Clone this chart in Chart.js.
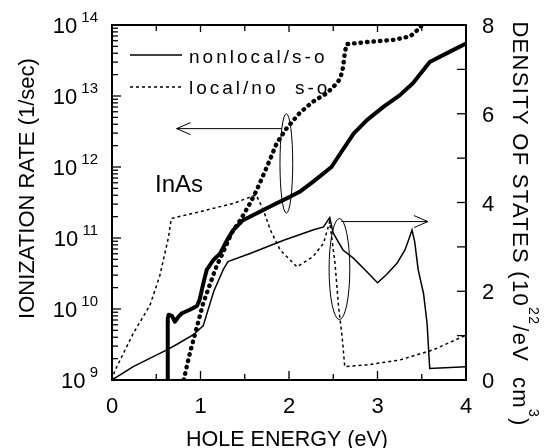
<!DOCTYPE html>
<html><head><meta charset="utf-8">
<script src="https://cdn.jsdelivr.net/npm/chart.js@4/dist/chart.umd.min.js"></script>
<style>html,body{margin:0;padding:0;background:#fff}canvas{display:block}</style>
</head><body>
<canvas id="c" width="545" height="448"></canvas>
<script>
// ---- data ----
const nonlocalRateE = [0.625,0.63,0.64,0.68,0.71,0.75,0.79,0.88,0.96,0.99,1.03,1.07,1.145,1.22,1.30,1.37,1.48,1.67,1.86,2.01,2.12,2.27,2.48,2.58,2.73,2.88,3.07,3.25,3.40,3.59,3.78,4.0];
const nonlocalRate  = [1.0e9,7.24e9,8.32e9,7.94e9,6.61e9,7.76e9,8.71e9,9.77e9,1.10e10,1.35e10,2.24e10,3.55e10,4.90e10,6.03e10,9.33e10,1.29e11,1.78e11,2.34e11,3.09e11,3.80e11,4.47e11,6.17e11,1.00e12,1.55e12,2.95e12,4.57e12,7.08e12,1.02e13,1.51e13,3.02e13,3.98e13,5.50e13];

const localRateE = [0.81,0.88,0.96,1.03,1.11,1.18,1.26,1.35,1.45,1.56,1.63,1.75,1.86,1.97,2.12,2.27,2.43,2.54,2.58,2.61,2.63,2.65,2.88,3.18,3.37,3.48,3.50];
const localRate  = [1.0e9,2.40e9,5.62e9,1.20e10,2.29e10,3.98e10,6.46e10,1.17e11,1.78e11,3.09e11,4.57e11,1.0e12,2.14e12,3.47e12,5.75e12,8.32e12,1.10e13,1.51e13,1.78e13,2.51e13,3.98e13,5.37e13,5.75e13,6.17e13,6.92e13,9.12e13,1.0e14];

const nonlocalDosE = [0,0.24,0.50,0.62,0.73,0.92,1.03,1.15,1.26,1.31,1.56,1.94,2.27,2.39,2.46,2.50,2.61,2.73,2.88,3.0,3.10,3.22,3.31,3.35,3.39,3.42,3.46,3.52,3.56,3.59,4.0];
const nonlocalDos  = [0,0.30,0.56,0.68,0.80,1.02,1.22,2.0,2.50,2.67,2.85,3.15,3.38,3.45,3.66,3.31,2.93,2.74,2.44,2.19,2.37,2.63,2.93,3.15,3.38,3.12,2.48,1.95,1.28,0.26,0.30];

const localDosE = [0,0.03,0.24,0.43,0.54,0.64,0.67,0.99,1.37,1.63,1.71,1.79,1.90,2.09,2.27,2.39,2.46,2.52,2.56,2.60,2.63,2.88,3.25,3.63,4.0];
const localDos  = [0,0.20,1.05,1.69,2.35,3.23,3.64,3.79,3.98,4.17,3.83,3.38,2.93,2.55,2.78,3.08,3.57,2.63,1.65,0.98,0.30,0.34,0.45,0.68,1.01];

// tick labels
const xTickValues = [0,1,2,3,4];
const xTickLabels = ['0','1','2','3','4'];
const leftTickExponents = [9,10,11,12,13,14];
const rightTickValues = [0,2,4,6,8];
const rightTickLabels = ['0','2','4','6','8'];

// text
const legendLabels = ['nonlocal/s-o','local/no  s-o'];
const xTitle = 'HOLE ENERGY (eV)';
const leftTitle = 'IONIZATION RATE (1/sec)';
const materialLabel = 'InAs';

// annotations (data coordinates)
const arrowLeftE = [1.92, 0.73];   const arrowLeftRate = 3.47e12;
const arrowRightE = [2.59, 3.57];  const arrowRightDos = 3.57;
const ellipseRate = {e:1.97, re:0.072, logc:12.05, rlog:0.70};
const ellipseDos  = {e:2.57, re:0.117, c:2.50, r:1.14};
const materialPos = {e:0.486, rate:4.5e11};

const pts = (xs, ys) => xs.map((x,i)=>({x, y: ys[i]}));

function seg(ctx,x1,y1,x2,y2){ctx.beginPath();ctx.moveTo(x1,y1);ctx.lineTo(x2,y2);ctx.stroke();}

function drawParts(ctx, parts, x, y, align){
  let total = 0;
  for (const p of parts){ ctx.font = p.f; p.w = ctx.measureText(p.t).width; total += p.w; }
  let cx = align === 'center' ? x - total/2 : (align === 'right' ? x - total : x);
  for (const p of parts){ ctx.font = p.f; ctx.fillText(p.t, cx, y + (p.dy||0)); cx += p.w; }
}

const FONT = '"Liberation Sans", Arial, Helvetica, sans-serif';

const decor = {
  id:'decor',
  afterDatasetsDraw(chart){
    const {ctx, chartArea:a, scales} = chart;
    const X = scales.x, Y = scales.y, Y2 = scales.y2;
    ctx.save();
    ctx.strokeStyle = '#000'; ctx.fillStyle = '#000';
    ctx.lineCap = 'butt';
    // frame
    ctx.lineWidth = 2;
    ctx.strokeRect(a.left, a.top, a.right-a.left, a.bottom-a.top);
    // x ticks (bottom and top), every 0.5
    ctx.lineWidth = 1.3;
    for (const t of X.ticks){
      const px = X.getPixelForValue(t.value);
      if (t.value <= X.min || t.value >= X.max) continue;
      const major = Math.abs(t.value - Math.round(t.value)) < 1e-6;
      seg(ctx, px, a.bottom, px, a.bottom - (major?9:6));
      seg(ctx, px, a.top, px, a.top + (major?7:6));
    }
    // left log ticks
    for (let e = leftTickExponents[0]; e < leftTickExponents[leftTickExponents.length-1]; e++){
      for (let m = 1; m <= 9; m++){
        const v = m * Math.pow(10, e);
        const py = Y.getPixelForValue(v);
        if (m === 1) { if (e>leftTickExponents[0]) seg(ctx, a.left, py, a.left+9, py); }
        else seg(ctx, a.left, py, a.left+6, py);
      }
    }
    // right ticks
    for (const t of Y2.ticks){
      if (t.value <= Y2.min || t.value >= Y2.max) continue;
      const py = Y2.getPixelForValue(t.value);
      seg(ctx, a.right, py, a.right-9, py);
    }
    // tick labels
    ctx.textBaseline = 'alphabetic';
    ctx.font = '22px ' + FONT;
    ctx.textAlign = 'center';
    xTickValues.forEach((v,i)=>{ ctx.fillText(xTickLabels[i], X.getPixelForValue(v), a.bottom + 33); });
    ctx.textAlign = 'left';
    rightTickValues.forEach((v,i)=>{ ctx.fillText(rightTickLabels[i], 482, Y2.getPixelForValue(v) + 8); });
    leftTickExponents.forEach(e=>{
      const py = Y.getPixelForValue(Math.pow(10,e));
      drawParts(ctx, [{t:'10', f:'22px '+FONT},{t:' '+String(e), f:'15px '+FONT, dy:-11}], 98, py+8, 'right');
    });
    // axis titles
    ctx.textAlign = 'center';
    ctx.font = '21.5px ' + FONT;
    ctx.fillText(xTitle, (a.left+a.right)/2 - 2, 446);
    ctx.save();
    ctx.translate(33.5, 188.5); ctx.rotate(-Math.PI/2);
    ctx.font = '22px ' + FONT; ctx.fillText(leftTitle, 0, 0);
    ctx.restore();
    ctx.save();
    ctx.translate(513, 224); ctx.rotate(Math.PI/2);
    ctx.textAlign = 'left';
    try { ctx.letterSpacing = '1.3px'; } catch(e) {}
    drawParts(ctx, [
      {t:'DENSITY OF STATES (10', f:'22px '+FONT},
      {t:'22', f:'14px '+FONT, dy:-16},
      {t:'/eV  cm', f:'22px '+FONT},
      {t:'3', f:'14px '+FONT, dy:-16},
      {t:')', f:'22px '+FONT}], 0, 0, 'center');
    try { ctx.letterSpacing = '0px'; } catch(e) {}
    ctx.restore();
    // material label
    ctx.textAlign = 'left';
    ctx.font = '24px ' + FONT;
    ctx.fillText(materialLabel, X.getPixelForValue(materialPos.e), Y.getPixelForValue(materialPos.rate));
    // legend
    ctx.lineWidth = 1.5;
    seg(ctx, 130, 55, 182, 55);
    ctx.setLineDash([3,3]); seg(ctx, 130, 87, 182, 87); ctx.setLineDash([]);
    ctx.font = '19px ' + FONT;
    try { ctx.letterSpacing = '3px'; } catch(e) {}
    ctx.fillText(legendLabels[0], 189, 63);
    ctx.fillText(legendLabels[1], 189, 94);
    try { ctx.letterSpacing = '0px'; } catch(e) {}
    // arrows
    ctx.lineWidth = 1;
    const ay = Y.getPixelForValue(arrowLeftRate);
    const ax1 = X.getPixelForValue(arrowLeftE[0]), ax2 = X.getPixelForValue(arrowLeftE[1]);
    seg(ctx, ax1, ay, ax2, ay);
    ctx.beginPath(); ctx.moveTo(ax2+14, ay-6); ctx.lineTo(ax2, ay); ctx.lineTo(ax2+14, ay+6); ctx.stroke();
    const by = Y2.getPixelForValue(arrowRightDos);
    const bx1 = X.getPixelForValue(arrowRightE[0]), bx2 = X.getPixelForValue(arrowRightE[1]);
    seg(ctx, bx1, by, bx2, by);
    ctx.beginPath(); ctx.moveTo(bx2-14, by-6); ctx.lineTo(bx2, by); ctx.lineTo(bx2-14, by+6); ctx.stroke();
    // ellipses
    const e1x = X.getPixelForValue(ellipseRate.e);
    const e1rx = X.getPixelForValue(ellipseRate.e + ellipseRate.re) - e1x;
    const e1t = Y.getPixelForValue(Math.pow(10, ellipseRate.logc + ellipseRate.rlog));
    const e1b = Y.getPixelForValue(Math.pow(10, ellipseRate.logc - ellipseRate.rlog));
    ctx.beginPath(); ctx.ellipse(e1x, (e1t+e1b)/2, e1rx, (e1b-e1t)/2, 0, 0, Math.PI*2); ctx.stroke();
    const e2x = X.getPixelForValue(ellipseDos.e);
    const e2rx = X.getPixelForValue(ellipseDos.e + ellipseDos.re) - e2x;
    const e2t = Y2.getPixelForValue(ellipseDos.c + ellipseDos.r);
    const e2b = Y2.getPixelForValue(ellipseDos.c - ellipseDos.r);
    ctx.beginPath(); ctx.ellipse(e2x, (e2t+e2b)/2, e2rx, (e2b-e2t)/2, 0, 0, Math.PI*2); ctx.stroke();
    ctx.restore();
  }
};

new Chart(document.getElementById('c'), {
  type:'line',
  data:{ datasets:[
    {label:'nonlocal/s-o rate', data:pts(nonlocalRateE, nonlocalRate), yAxisID:'y', borderColor:'#000', borderWidth:4, borderJoinStyle:'round', pointRadius:0, fill:false, tension:0},
    {label:'local/no s-o rate', data:pts(localRateE, localRate), yAxisID:'y', borderColor:'#000', borderWidth:4.4, borderDash:[0.5,6], borderCapStyle:'round', pointRadius:0, fill:false, tension:0},
    {label:'nonlocal/s-o DOS', data:pts(nonlocalDosE, nonlocalDos), yAxisID:'y2', borderColor:'#000', borderWidth:1.5, pointRadius:0, fill:false, tension:0},
    {label:'local/no s-o DOS', data:pts(localDosE, localDos), yAxisID:'y2', borderColor:'#000', borderWidth:1.5, borderDash:[3,3], pointRadius:0, fill:false, tension:0}
  ]},
  options:{
    responsive:false, animation:false, devicePixelRatio:1,
    layout:{padding:{top:25,left:0,right:0,bottom:0}},
    plugins:{legend:{display:false}, tooltip:{enabled:false}},
    scales:{
      x:{type:'linear', position:'bottom', min:0, max:4, ticks:{display:false, stepSize:0.5}, grid:{display:false}, border:{display:false}, afterFit(s){s.height=68;}},
      y:{type:'logarithmic', position:'left', min:1e9, max:1e14, ticks:{display:false}, grid:{display:false}, border:{display:false}, afterFit(s){s.width=112;}},
      y2:{type:'linear', position:'right', min:0, max:8, ticks:{display:false, stepSize:1}, grid:{display:false}, border:{display:false}, afterFit(s){s.width=79;}}
    }
  },
  plugins:[decor]
});
</script>
</body></html>
